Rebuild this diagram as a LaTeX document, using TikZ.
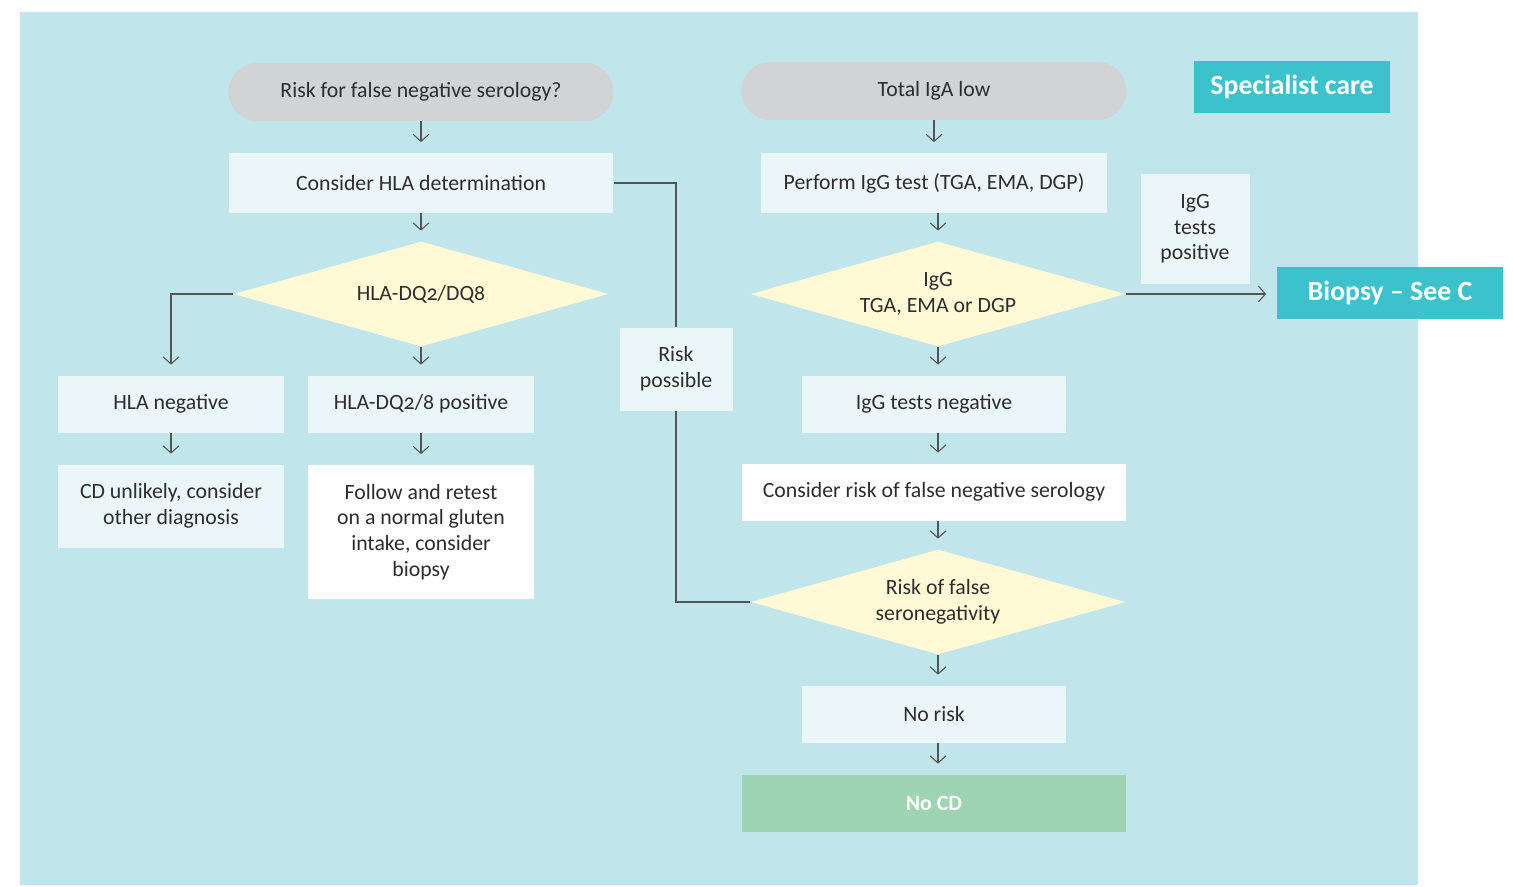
\documentclass[tikz,border=0pt]{standalone}
\usepackage{fontspec}
\setmainfont{Carlito}[Numbers=OldStyle]
\usetikzlibrary{shapes.geometric,arrows.meta}

\definecolor{bgblue}{RGB}{192,229,234}
\definecolor{paleblue}{RGB}{234,246,248}
\definecolor{pillgray}{RGB}{209,211,212}
\definecolor{paleyellow}{RGB}{255,249,214}
\definecolor{tealbox}{RGB}{60,194,204}
\definecolor{greenbox}{RGB}{158,211,180}
\definecolor{linegray}{RGB}{85,85,85}
\definecolor{textgray}{RGB}{45,45,45}

\tikzset{
  box/.style={fill=paleblue, text=textgray, align=center, inner sep=2pt},
  whitebox/.style={box, fill=white},
  pill/.style={box, fill=pillgray, rounded corners=0.58cm, minimum width=7.7cm, minimum height=1.16cm},
  decision/.style={diamond, aspect=3.6, fill=paleyellow, text=textgray, align=center, inner sep=0pt, minimum width=7.5cm, minimum height=2.1cm},
  stage/.style={fill=tealbox, text=white, font=\fontsize{15.8}{18}\selectfont\bfseries, inner sep=2pt},
  flow/.style={draw=linegray, line width=0.6pt, -{Straight Barb[length=4pt,width=9pt]}, shorten >=6pt},
  link/.style={draw=linegray, line width=0.6pt}
}

\begin{document}
\begin{tikzpicture}[x=0.02cm, y=-0.02cm, font=\fontsize{12.4}{14.6}\selectfont]
  \useasboundingbox (0,0) rectangle (1513,886);
  %draw background
  \fill[bgblue] (20,12) rectangle (1418,885);

  %draw left column
  \node[pill] (riskq) at (421,92) {Risk for false negative serology?};
  \node[box, minimum width=7.7cm, minimum height=1.2cm] (hla) at (421,183) {Consider HLA determination};
  \node[decision] (dq) at (421,294) {HLA-DQ2/DQ8};
  \node[box, minimum width=4.52cm, minimum height=1.14cm] (hlaneg) at (171,404) {HLA negative};
  \node[box, minimum width=4.52cm, minimum height=1.14cm] (hlapos) at (421,404) {HLA-DQ2/8 positive};
  \node[box, minimum width=4.52cm, minimum height=1.66cm] (unlikely) at (171,506) {CD unlikely, consider\\other diagnosis};
  \node[whitebox, minimum width=4.52cm, minimum height=2.68cm] (retest) at (421,532) {Follow and retest\\on a normal gluten\\intake, consider\\biopsy};
  \node[box, minimum width=2.26cm, minimum height=1.66cm] (riskpos) at (676,369) {Risk\\possible};

  %draw right column
  \node[pill] (iga) at (934,91) {Total IgA low};
  \node[box, minimum width=6.94cm, minimum height=1.2cm] (iggtest) at (934,183) {Perform IgG test (TGA, EMA, DGP)};
  \node[decision] (igg) at (938,294) {IgG\\TGA, EMA or DGP};
  \node[box, minimum width=5.28cm, minimum height=1.14cm] (iggneg) at (934,404) {IgG tests negative};
  \node[whitebox, minimum width=7.7cm, minimum height=1.14cm] (falseneg) at (934,492) {Consider risk of false negative serology};
  \node[decision] (seroneg) at (938,602) {Risk of false\\seronegativity};
  \node[box, minimum width=5.28cm, minimum height=1.14cm] (norisk) at (934,714) {No risk};
  \node[box, fill=greenbox, text=white, font=\fontsize{12.4}{14.6}\selectfont\bfseries, minimum width=7.7cm, minimum height=1.14cm] (nocd) at (934,803) {No CD};

  %draw stages
  \node[stage, minimum width=3.92cm, minimum height=1.04cm] (specialist) at (1292,87) {Specialist care};
  \node[stage, minimum width=4.52cm, minimum height=1.04cm] (biopsy) at (1390,293) {Biopsy -- See C};
  \node[box, minimum width=2.18cm, minimum height=2.2cm] (iggpos) at (1195,229) {IgG\\tests\\positive};

  %draw arrows
  \draw[flow] (riskq) -- (hla);
  \draw[flow] (hla) -- (dq);
  \draw[flow] (dq.south) -- (hlapos);
  \draw[flow] (dq.west) -| (hlaneg);
  \draw[flow] (hlaneg) -- (unlikely);
  \draw[flow] (hlapos) -- (retest);
  \draw[flow] (iga) -- (iga |- iggtest.north);
  \draw[flow] (iggtest.south -| igg) -- (igg);
  \draw[flow] (igg.south) -- (igg |- iggneg.north);
  \draw[flow] (iggneg.south -| igg) -- (igg |- falseneg.north);
  \draw[flow] (falseneg.south -| igg) -- (seroneg);
  \draw[flow] (seroneg.south) -- (seroneg |- norisk.north);
  \draw[flow] (norisk.south -| seroneg) -- (seroneg |- nocd.north);
  \draw[flow] (igg.east) -- (igg.east -| biopsy.west);

  %draw risk link
  \draw[link] (hla.east) -| (riskpos.north);
  \draw[link] (riskpos.south) |- (seroneg.west);
\end{tikzpicture}
\end{document}
